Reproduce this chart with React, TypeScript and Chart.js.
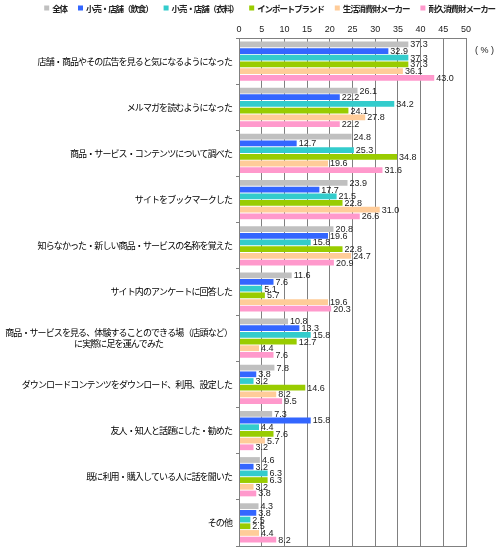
import { useEffect, useRef } from "react";
import Chart from "chart.js/auto";

const categories: (string | string[])[] = [
  "店舗・商品やその広告を見ると気になるようになった",
  "メルマガを読むようになった",
  "商品・サービス・コンテンツについて調べた",
  "サイトをブックマークした",
  "知らなかった・新しい商品・サービスの名称を覚えた",
  "サイト内のアンケートに回答した",
  ["商品・サービスを見る、体験することのできる場（店頭など）", "に実際に足を運んでみた"],
  "ダウンロードコンテンツをダウンロード、利用、設定した",
  "友人・知人と話題にした・勧めた",
  "既に利用・購入している人に話を聞いた",
  "その他",
];

const seriesNames = [
  "全体",
  "小売・店舗（飲食）",
  "小売・店舗（衣料）",
  "インポートブランド",
  "生活消費財メーカー",
  "耐久消費財メーカー",
];

const zentai = [37.3, 26.1, 24.8, 23.9, 20.8, 11.6, 10.8, 7.8, 7.3, 4.6, 4.3];
const inshoku = [32.9, 22.2, 12.7, 17.7, 19.6, 7.6, 13.3, 3.8, 15.8, 3.2, 3.8];
const iryo = [37.3, 34.2, 25.3, 21.5, 15.8, 5.1, 15.8, 3.2, 4.4, 6.3, 2.5];
const importBrand = [37.3, 24.1, 34.8, 22.8, 22.8, 5.7, 12.7, 14.6, 7.6, 6.3, 2.5];
const seikatsu = [36.1, 27.8, 19.6, 31.0, 24.7, 19.6, 4.4, 8.2, 5.7, 3.2, 4.4];
const taikyu = [43.0, 22.2, 31.6, 26.6, 20.9, 20.3, 7.6, 9.5, 3.2, 3.8, 8.2];

const seriesValues = [zentai, inshoku, iryo, importBrand, seikatsu, taikyu];
const seriesColors = ["#c0c0c0", "#3366ff", "#33cccc", "#99cc00", "#ffcc99", "#ff99cc"];

const xMin = 0;
const xMax = 50;
const xStep = 5;

const JP = "'Noto Sans CJK JP', sans-serif";
const NUM = "'Liberation Sans', Arial, sans-serif";
const lineColor = "#808080";
const textColor = "#222";

const extras = {
  id: "extras",
  afterDraw(chart: Chart) {
    const { ctx, chartArea } = chart;
    const yScale = chart.scales.y;
    ctx.save();

    // plot border
    ctx.strokeStyle = lineColor;
    ctx.lineWidth = 1;
    ctx.strokeRect(
      Math.round(chartArea.left) + 0.5,
      Math.round(chartArea.top) + 0.5,
      Math.round(chartArea.right - chartArea.left),
      Math.round(chartArea.bottom - chartArea.top)
    );

    // value labels
    ctx.fillStyle = textColor;
    ctx.font = `9px ${NUM}`;
    ctx.textAlign = "left";
    ctx.textBaseline = "middle";
    chart.data.datasets.forEach((ds, di) => {
      const meta = chart.getDatasetMeta(di);
      meta.data.forEach((bar: any, i) => {
        const v = ds.data[i] as number;
        ctx.fillText(v.toFixed(1), bar.x + 2, bar.y + 0.5);
      });
    });

    // category labels (multi-line ones centred on their widest line)
    ctx.font = `9px ${JP}`;
    (ctx as any).letterSpacing = "-0.9px";
    ctx.fillStyle = "#000";
    categories.forEach((label, i) => {
      const lines = Array.isArray(label) ? label : [label];
      const y = yScale.getPixelForTick(i);
      const right = chartArea.left - 7;
      const widths = lines.map((l) => ctx.measureText(l).width);
      const w = Math.max(...widths);
      const lh = 10.5;
      lines.forEach((l, k) => {
        const ly = y + (k - (lines.length - 1) / 2) * lh;
        ctx.fillText(l, right - w / 2 - widths[k] / 2, ly);
      });
    });

    // legend
    ctx.font = `bold 8.5px ${JP}`;
    (ctx as any).letterSpacing = "-1.1px";
    const box = 5;
    const gapBox = 3;
    const gapItem = 11;
    const items = chart.data.datasets.map((ds) => ({
      label: ds.label as string,
      color: ds.backgroundColor as string,
      w: ctx.measureText(ds.label as string).width,
    }));
    const total =
      items.reduce((s, it) => s + box + gapBox + it.w, 0) + gapItem * (items.length - 1);
    let lx = chart.width - 5 - total;
    const ly = 8;
    items.forEach((it) => {
      ctx.fillStyle = it.color;
      ctx.fillRect(lx, ly - box / 2, box, box);
      lx += box + gapBox;
      ctx.fillStyle = textColor;
      ctx.fillText(it.label, lx, ly + 0.5);
      lx += it.w + gapItem;
    });

    // unit
    (ctx as any).letterSpacing = "0px";
    ctx.font = `9px ${NUM}`;
    ctx.fillStyle = textColor;
    ctx.fillText("( % )", chartArea.right + 9, chartArea.top + 13);

    ctx.restore();
  },
};

const App = () => {
  const canvasRef = useRef<HTMLCanvasElement>(null);

  useEffect(() => {
    document.body.style.margin = "0";
    if (!canvasRef.current) return;
    const ctx = canvasRef.current.getContext("2d");
    if (!ctx) return;

    const chart = new Chart(ctx, {
      type: "bar",
      data: {
        labels: categories as any,
        datasets: seriesNames.map((name, i) => ({
          label: name,
          data: seriesValues[i],
          backgroundColor: seriesColors[i],
          borderWidth: 0,
          barPercentage: 0.86,
          categoryPercentage: 0.87,
        })),
      },
      options: {
        indexAxis: "y",
        animation: false,
        responsive: false,
        layout: { padding: { top: 0, right: 34, bottom: 6, left: 0 } },
        plugins: {
          legend: { display: false },
          tooltip: { enabled: false },
        },
        scales: {
          x: {
            position: "top",
            min: xMin,
            max: xMax,
            ticks: {
              stepSize: xStep,
              padding: 3,
              color: textColor,
              font: { family: NUM, size: 9 },
            },
            grid: { color: lineColor, drawTicks: false },
            border: { color: lineColor },
            afterFit: (s: any) => {
              s.height = 38;
            },
          },
          y: {
            ticks: { display: false },
            grid: {
              drawOnChartArea: false,
              offset: true,
              tickLength: 3,
              color: lineColor,
            },
            border: { color: lineColor },
            afterFit: (s: any) => {
              s.width = 239;
            },
          },
        },
      },
      plugins: [extras],
    });

    return () => {
      chart.destroy();
    };
  }, []);

  return <canvas ref={canvasRef} width={500} height={552}></canvas>;
};

export default App;
